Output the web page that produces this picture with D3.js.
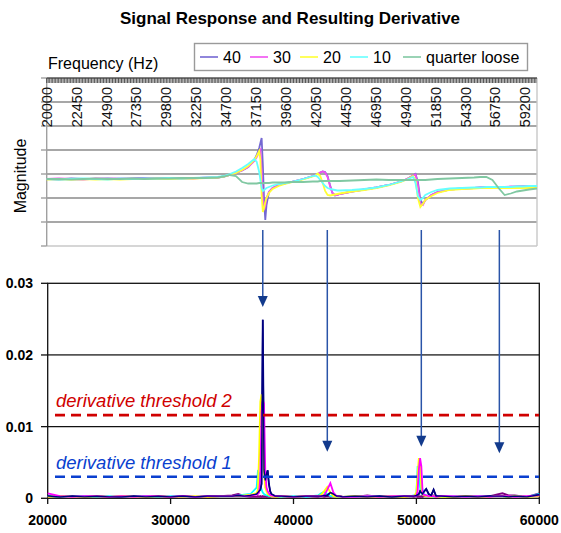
<!DOCTYPE html>
<html><head><meta charset="utf-8">
<script src="https://cdn.jsdelivr.net/npm/d3@7"></script>
<style>body{margin:0;background:#fff;} svg{display:block;font-family:Arial,"Liberation Sans",sans-serif;}</style>
</head><body><svg id="c" width="561" height="533"></svg>
<script>
// ---------- DATA: top chart (signal response, arbitrary magnitude units) ----------
const topFreq = [20000,21000,22000,23000,24000,25000,26000,27000,28000,29000,30000,31000,32000,33000,34000,34500,35000,35500,36000,36500,37000,37200,37400,37500,37600,37700,37800,37900,38000,38200,38500,39000,39500,40000,41000,41800,42000,42200,42400,42600,42800,43000,43200,43400,43600,43800,44000,45000,46000,47000,48000,49000,49500,50000,50200,50400,50600,50800,51000,51500,52000,53000,54000,55000,55500,56000,56500,57000,57500,58000,58500,59000,59500,60150];
const mag40 = [67,66.5,67.5,67,67,67.5,67,67.5,68,67.5,68,67.5,68,68,68.5,69.5,71,73,75.5,79,86,91,98,103,108,81,46,26,41,54,58,61,62.5,64,67,70,71,72,73.5,74.5,74,70,61,53,50.5,51,52,54.5,56.5,58.5,61,64.5,67,70.5,72,64,46,42,46,51,54,56.5,57.5,58,58.5,58.5,59,59,59,59,59.5,59.5,59.5,59.5];
const mag30 = [67,67.5,67,66.5,67.5,67,67.5,67,67.5,68,67.5,68,67.5,68.5,68.5,69.5,71,73,75.5,79,85,89,94,96,76,46,36,40,48,54,58,61,62.5,64,67,70,71,72,73.5,74.5,73.5,69,60,53,51,51,52,54.5,56.5,58.5,61,64.5,67,70.5,71.5,61,42,41,46,51,54,56.5,57.5,58,58.5,59,59,59,59,59.5,59,59.5,59.5,59.5];
const mag20 = [66.5,67,66.5,67,66.5,67,66.5,67,67,67.5,67,67.5,67.5,68,68.5,69.5,71,73,76,80,86,90,95,86,51,34,38,44,48,53,57,60,62,63.5,66.5,69.5,70.5,72.5,70,63,55,51,50.5,51,51.5,52,52.5,54.5,56,58,60.5,64,66.5,70,66,48,39,42,46,50,53,56,57,57.5,58,58,58,58,58,58,58,58,58,58];
const mag10 = [67,66.5,67,67.5,67,66.5,67.5,67,67.5,67.5,68,67.5,68,68.5,69,70,72,74.5,78,82,87,84,74,66,58,55,56,57,58,59,60.5,62,63,64,67,70,70.5,69,66,63,60,58,57,56.5,56,55.5,55.5,56,57,58.5,61,64.5,66.5,69,63,50,46,48,51,54,56,57.5,58,58.5,58.5,59,59,59,59,59,59.5,59.5,60,60];
const magQuarter = [67,67,66.5,67,67.5,67,67,67.5,67,67.5,67.5,68,68,68,68.5,69.5,71,70,64,62.5,62.5,62.5,63,63,63,62.5,63,63,63,63,63.5,63.5,63.5,64,64,64.5,64.5,64.5,65,65,65,65,65,65,65,65,65,65.5,66,66.5,66,66,66,66,66,66,66,66,66,66.5,67,67.5,68,68.5,69,69,66,58,51,52.5,54.5,55.5,56.5,57.5];
const topSeriesNames = ["40","30","20","10","quarter loose"];
const topTickLabels = [20000,22450,24900,27350,29800,32250,34700,37150,39600,42050,44500,46950,49400,51850,54300,56750,59200];
const magGrid = [24,48,72,96,120,144];

// ---------- DATA: bottom chart (derivative) ----------
const derivFreq = [20000,21000,22000,23000,24000,25000,26000,27000,28000,29000,30000,31000,32000,33000,34000,35000,35500,36000,36500,37000,37100,37200,37300,37400,37500,37600,37700,37800,37900,38000,38100,38200,38500,39000,40000,41000,42000,42250,42500,42750,43000,43250,43500,43750,44000,45000,46000,47000,48000,49000,49500,49800,50000,50100,50200,50300,50400,50500,50600,50800,51000,51200,51400,51600,52000,53000,54000,55000,56000,56500,57000,57500,58000,59000,60000];
const der40 = [0.0003,0.0002,0.0003,0.0002,0.0003,0.0002,0.0002,0.0003,0.0002,0.0003,0.0002,0.0003,0.0002,0.0003,0.0003,0.0003,0.0004,0.0003,0.0004,0.0006,0.0008,0.0010,0.0012,0.0020,0.0249,0.0040,0.0025,0.0034,0.0039,0.0020,0.0010,0.0006,0.0003,0.0003,0.0002,0.0003,0.0003,0.0003,0.0004,0.0004,0.0008,0.0006,0.0003,0.0003,0.0002,0.0003,0.0002,0.0003,0.0002,0.0003,0.0003,0.0003,0.0004,0.0005,0.0006,0.0010,0.0008,0.0006,0.0009,0.0013,0.0006,0.0004,0.0012,0.0003,0.0003,0.0002,0.0003,0.0002,0.0003,0.0003,0.0003,0.0002,0.0003,0.0002,0.0005];
const der30 = [0.0007,0.0003,0.0002,0.0003,0.0003,0.0002,0.0003,0.0002,0.0003,0.0003,0.0002,0.0003,0.0002,0.0003,0.0003,0.0003,0.0004,0.0003,0.0004,0.0005,0.0006,0.0008,0.0030,0.0120,0.0137,0.0132,0.0040,0.0015,0.0010,0.0007,0.0005,0.0004,0.0003,0.0003,0.0002,0.0003,0.0003,0.0003,0.0004,0.0012,0.0021,0.0008,0.0003,0.0003,0.0002,0.0002,0.0003,0.0002,0.0003,0.0003,0.0003,0.0003,0.0004,0.0010,0.0040,0.0056,0.0045,0.0010,0.0005,0.0004,0.0003,0.0003,0.0003,0.0002,0.0003,0.0003,0.0002,0.0003,0.0002,0.0003,0.0003,0.0003,0.0002,0.0003,0.0004];
const der20 = [0.0002,0.0003,0.0002,0.0002,0.0003,0.0002,0.0003,0.0002,0.0002,0.0003,0.0002,0.0002,0.0003,0.0002,0.0003,0.0003,0.0003,0.0004,0.0005,0.0007,0.0012,0.0060,0.0135,0.0145,0.0130,0.0040,0.0015,0.0010,0.0006,0.0005,0.0004,0.0003,0.0002,0.0003,0.0002,0.0003,0.0003,0.0005,0.0010,0.0016,0.0008,0.0003,0.0002,0.0003,0.0002,0.0003,0.0002,0.0002,0.0003,0.0002,0.0003,0.0003,0.0008,0.0035,0.0056,0.0050,0.0015,0.0006,0.0004,0.0003,0.0003,0.0002,0.0003,0.0002,0.0002,0.0002,0.0003,0.0002,0.0002,0.0003,0.0003,0.0002,0.0003,0.0002,0.0003];
const der10 = [0.0003,0.0002,0.0002,0.0003,0.0002,0.0003,0.0002,0.0002,0.0003,0.0002,0.0003,0.0002,0.0002,0.0003,0.0003,0.0003,0.0004,0.0005,0.0006,0.0015,0.0037,0.0035,0.0020,0.0012,0.0008,0.0006,0.0005,0.0004,0.0004,0.0003,0.0003,0.0003,0.0003,0.0002,0.0003,0.0002,0.0004,0.0007,0.0009,0.0006,0.0003,0.0003,0.0002,0.0003,0.0002,0.0002,0.0003,0.0002,0.0003,0.0003,0.0003,0.0004,0.0006,0.0045,0.0040,0.0015,0.0008,0.0012,0.0006,0.0004,0.0003,0.0003,0.0002,0.0003,0.0002,0.0003,0.0002,0.0003,0.0002,0.0003,0.0003,0.0002,0.0003,0.0002,0.0006];
const derQuarter = [0.0002,0.0003,0.0002,0.0003,0.0002,0.0002,0.0003,0.0002,0.0003,0.0002,0.0002,0.0003,0.0002,0.0002,0.0003,0.0004,0.0006,0.0003,0.0002,0.0002,0.0003,0.0002,0.0003,0.0002,0.0003,0.0002,0.0003,0.0002,0.0003,0.0002,0.0002,0.0003,0.0002,0.0003,0.0002,0.0003,0.0002,0.0003,0.0002,0.0003,0.0002,0.0003,0.0002,0.0003,0.0002,0.0002,0.0004,0.0002,0.0003,0.0002,0.0003,0.0002,0.0003,0.0002,0.0003,0.0002,0.0003,0.0002,0.0003,0.0003,0.0004,0.0003,0.0004,0.0002,0.0003,0.0002,0.0003,0.0003,0.0003,0.0005,0.0007,0.0004,0.0004,0.0002,0.0007];
const bottomXTicks = [20000,30000,40000,50000,60000];
const bottomYTicks = [0,0.01,0.02,0.03];
const thresholdValues = [0.0116,0.0030];
const thresholdLabels = ["derivative threshold 2","derivative threshold 1"];
const arrowFreqs = [37500,42750,50400,56750];
const arrowTips = [0.0267,0.0065,0.0072,0.0063];

// ---------- DRAW ----------
const svg = d3.select("#c");
const topColors = ["#7468d2","#f050f0","#ffff33","#66ffff","#80c8a2"];
const botColors = ["#000080","#ff00ff","#ffff00","#00ffff","#800080"];

svg.append("text").attr("x",290).attr("y",24).attr("text-anchor","middle")
  .attr("font-weight","bold").attr("font-size",17).text("Signal Response and Resulting Derivative");

// top chart
const xT = d3.scaleLinear().domain([20000,60150]).range([46.7,537]);
const yT = d3.scaleLinear().domain([0,168]).range([246,78]);
const gT = svg.append("g");
gT.selectAll("line.grid").data(magGrid).join("line")
  .attr("x1",46.7).attr("x2",537).attr("y1",d=>yT(d)).attr("y2",d=>yT(d))
  .attr("stroke","#8a8a8a").attr("stroke-width",1.4);
gT.append("line").attr("x1",537).attr("x2",537).attr("y1",78).attr("y2",246).attr("stroke","#c8c8c8").attr("stroke-width",1.4);
gT.append("line").attr("x1",46.7).attr("x2",537).attr("y1",246).attr("y2",246).attr("stroke","#c8c8c8").attr("stroke-width",1.4);
gT.append("line").attr("x1",46.7).attr("x2",46.7).attr("y1",78).attr("y2",246).attr("stroke","#a0a0a0").attr("stroke-width",1.4);
gT.selectAll("line.lt").data([0].concat(magGrid).concat([168])).join("line")
  .attr("x1",41).attr("x2",46.7).attr("y1",d=>yT(d)).attr("y2",d=>yT(d)).attr("stroke","#a0a0a0").attr("stroke-width",1.4);
gT.append("line").attr("x1",46.7).attr("x2",537).attr("y1",78).attr("y2",78).attr("stroke","#555").attr("stroke-width",1.5);
gT.selectAll("line.mt").data(d3.range(20000,60150,122.5)).join("line")
  .attr("x1",d=>xT(d)).attr("x2",d=>xT(d)).attr("y1",78).attr("y2",83).attr("stroke","#444").attr("stroke-width",0.9);
gT.selectAll("text.tl").data(topTickLabels).join("text")
  .attr("transform",d=>`translate(${xT(d)+5},87) rotate(-90)`).attr("text-anchor","end")
  .attr("font-size",14.5).attr("fill","#111").text(d=>d);
gT.append("text").attr("transform","translate(26,176) rotate(-90)").attr("text-anchor","middle")
  .attr("font-size",16).text("Magnitude");
gT.append("text").attr("x",48).attr("y",69).attr("font-size",16).text("Frequency (Hz)");

const lineT = d3.line().x((d,i)=>xT(topFreq[i])).y(d=>yT(d));
[mag40,mag30,mag20,mag10,magQuarter].forEach((s,k)=>{
  gT.append("path").attr("d",lineT(s)).attr("fill","none").attr("stroke",topColors[k]).attr("stroke-width",1.8);
});

// legend
const lg = svg.append("g");
lg.append("rect").attr("x",194.5).attr("y",43.5).attr("width",333).attr("height",27)
  .attr("fill","#fff").attr("stroke","#9a9a9a").attr("stroke-width",1.4);
const legX = [200,250,300,350,403];
topSeriesNames.forEach((n,k)=>{
  lg.append("line").attr("x1",legX[k]).attr("x2",legX[k]+18).attr("y1",57).attr("y2",57).attr("stroke",topColors[k]).attr("stroke-width",1.6);
  lg.append("text").attr("x",legX[k]+23).attr("y",63).attr("font-size",16).text(n);
});

// bottom chart
const xB = d3.scaleLinear().domain([20000,60000]).range([47.7,539.3]);
const yB = d3.scaleLinear().domain([0,0.03]).range([498.3,283.3]);
const gB = svg.append("g");
gB.selectAll("line.g").data([0.01,0.02]).join("line")
  .attr("x1",47.7).attr("x2",539.3).attr("y1",d=>yB(d)).attr("y2",d=>yB(d))
  .attr("stroke",(d,i)=>i?"#555":"#111").attr("stroke-width",(d,i)=>i?1.8:1.2);
gB.append("rect").attr("x",47.7).attr("y",283.3).attr("width",491.6).attr("height",215)
  .attr("fill","none").attr("stroke","#111").attr("stroke-width",1.3);
gB.selectAll("line.yt").data(bottomYTicks).join("line")
  .attr("x1",41).attr("x2",47.7).attr("y1",d=>yB(d)).attr("y2",d=>yB(d)).attr("stroke","#111").attr("stroke-width",1.3);
gB.selectAll("line.xt").data(bottomXTicks).join("line")
  .attr("x1",d=>xB(d)).attr("x2",d=>xB(d)).attr("y1",498.3).attr("y2",504).attr("stroke","#111").attr("stroke-width",1.3);
gB.selectAll("text.yl").data(bottomYTicks).join("text")
  .attr("x",33).attr("y",d=>yB(d)+5).attr("text-anchor","end").attr("font-weight","bold").attr("font-size",14)
  .text(d=>d===0?"0":d.toFixed(2));
gB.selectAll("text.xl").data(bottomXTicks).join("text")
  .attr("x",d=>xB(d)).attr("y",525).attr("text-anchor","middle").attr("font-weight","bold").attr("font-size",14)
  .text(d=>d);

const lineB = d3.line().x((d,i)=>xB(derivFreq[i])).y(d=>yB(d));
const derSeries = [der40,der30,der20,der10,derQuarter];
[4,3,0,2,1].forEach(k=>{
  gB.append("path").attr("d",lineB(derSeries[k])).attr("fill","none").attr("stroke",botColors[k]).attr("stroke-width",1.8);
});
gB.append("path").attr("d",lineB(der40)).attr("fill","none").attr("stroke",botColors[0]).attr("stroke-width",1.4);

// thresholds
const thColors = ["#d00000","#0a3fcf"];
thresholdValues.forEach((v,k)=>{
  gB.append("line").attr("x1",55).attr("x2",539).attr("y1",yB(v)).attr("y2",yB(v))
    .attr("stroke",thColors[k]).attr("stroke-width",2.6).attr("stroke-dasharray","10,6");
  gB.append("text").attr("x",56).attr("y",yB(v)-8).attr("font-style","italic").attr("font-size",18.5)
    .attr("fill",thColors[k]).text(thresholdLabels[k]);
});

// arrows
const arrowColor = "#2a54a8";
arrowFreqs.forEach((f,k)=>{
  const x = xB(f), tip = yB(arrowTips[k]);
  svg.append("line").attr("x1",x).attr("x2",x).attr("y1",yT(16)).attr("y2",tip-8)
    .attr("stroke",arrowColor).attr("stroke-width",1.5);
  svg.append("path").attr("d",`M${x-5},${tip-11}L${x+5},${tip-11}L${x},${tip}Z`).attr("fill","#123a8c");
});
</script></body></html>
